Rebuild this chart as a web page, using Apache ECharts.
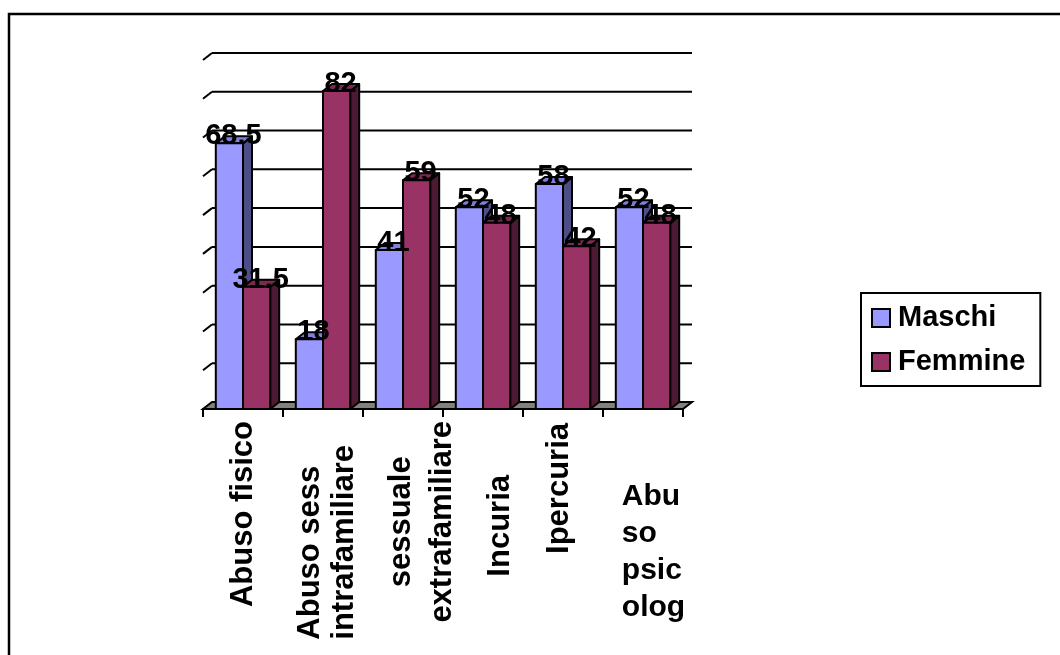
<!DOCTYPE html>
<html><head><meta charset="utf-8">
<script src="https://cdn.jsdelivr.net/npm/echarts@6/dist/echarts.min.js"></script>
<style>html,body{margin:0;padding:0;background:#fff}#c{width:1060px;height:655px}</style>
</head><body><div id="c"></div>
<script>
const categories = ['Abuso fisico', 'Abuso sess\nintrafamiliare', 'sessuale\nextrafamiliare', 'Incuria', 'Ipercuria', 'Abu\nso\npsic\nolog'];
const seriesNames = ['Maschi', 'Femmine'];
const maschi = [68.5, 18, 41, 52, 58, 52];
const femmine = [31.5, 82, 59, 48, 42, 48];
const gridValues = [0, 10, 20, 30, 40, 50, 60, 70, 80, 90];

const FONT = "'Liberation Sans', Arial, sans-serif";
const DX = 9, DY = -7;
const palettes = [
  {front: '#9999FF', top: '#7f7fdc', side: '#4d4d88'},
  {front: '#993366', top: '#7d2953', side: '#4d1a33'}
];

function barRenderer(sIdx) {
  return function (params, api) {
    const ci = api.value(0), v = api.value(1);
    const base = api.coord([ci, 0]);
    const top = api.coord([ci, v]);
    const band = api.size([1, 0])[0];
    const bw = band * 0.34;
    const x0 = base[0] - bw + sIdx * bw;
    const x1 = x0 + bw;
    const ty = top[1], by = base[1];
    const pal = palettes[sIdx];
    const st = {stroke: '#000', lineWidth: 2, lineJoin: 'round'};
    return {type: 'group', children: [
      {type: 'polygon', z2: 1, shape: {points: [[x1, by], [x1 + DX, by + DY], [x1 + DX, ty + DY], [x1, ty]]}, style: Object.assign({}, st, {fill: pal.side})},
      {type: 'polygon', z2: 1, shape: {points: [[x0, ty], [x1, ty], [x1 + DX, ty + DY], [x0 + DX, ty + DY]]}, style: Object.assign({}, st, {fill: pal.top})},
      {type: 'rect', z2: 1, shape: {x: x0, y: ty, width: bw, height: by - ty}, style: Object.assign({}, st, {fill: pal.front})},
      {type: 'text', z2: 100, x: x0 + bw / 2 + 4, y: ty - 7,
        style: {text: String(v), fill: '#000', font: 'bold 29px ' + FONT, align: 'center', verticalAlign: 'middle', textAlign: 'center', textVerticalAlign: 'middle'}}
    ]};
  };
}

function frameRenderer(params, api) {
  const v = api.value(1);
  const cs = params.coordSys;
  const y = api.coord([0, v])[1];
  const L = cs.x, R = cs.x + cs.width;
  const ls = {stroke: '#000', lineWidth: 2};
  const children = [];
  if (v === 0) {
    children.push({type: 'polygon', shape: {points: [[L, y], [R, y], [R + DX, y + DY], [L + DX, y + DY]]}, style: {fill: '#808080', stroke: '#000', lineWidth: 2}});
  } else {
    children.push({type: 'line', shape: {x1: L, y1: y, x2: L + DX, y2: y + DY}, style: ls});
    children.push({type: 'line', shape: {x1: L + DX, y1: y + DY, x2: R + DX, y2: y + DY}, style: ls});
  }
  return {type: 'group', children: children};
}

const base = {fontFamily: FONT, fontWeight: 'bold', fontSize: 31, lineHeight: 37, color: '#000'};
const rich = {
  c0l0: Object.assign({}, base),
  c1l0: Object.assign({}, base, {lineHeight: 34, align: 'left', padding: [8, 0, 0, 0]}),
  c1l1: Object.assign({}, base, {lineHeight: 34, align: 'left', padding: [8, 24, 0, 0]}),
  c2l0: Object.assign({}, base, {lineHeight: 41, align: 'center', padding: [37, 0, 0, 0]}),
  c2l1: Object.assign({}, base, {lineHeight: 41, align: 'center', padding: [37, 0, 0, 0]}),
  c3l0: Object.assign({}, base, {padding: [34, 54, 0, 0]}),
  c4l0: Object.assign({}, base, {padding: [0, 2, 8, 0]})
};
const richH = {h: {fontFamily: FONT, fontWeight: 'bold', fontSize: 30, lineHeight: 37, color: '#000', align: 'left'}};
const last = categories.length - 1;

const chart = echarts.init(document.getElementById('c'), null, {renderer: 'canvas'});
chart.setOption({
  animation: false,
  backgroundColor: '#fff',
  graphic: [{type: 'rect', shape: {x: 9, y: 14, width: 1200, height: 800}, style: {fill: 'none', stroke: '#000', lineWidth: 2.5}, z: -1}],
  grid: {left: 203, right: 377, top: 60, bottom: 246, containLabel: false, outerBoundsMode: 'none'},
  legend: {
    data: seriesNames, orient: 'vertical', left: 861, top: 293, padding: [10, 15, 9, 10],
    itemGap: 14, itemWidth: 18, itemHeight: 18, icon: 'rect',
    itemStyle: {borderColor: '#000', borderWidth: 2},
    borderColor: '#000', borderWidth: 2,
    textStyle: {fontFamily: FONT, fontWeight: 'bold', fontSize: 29, color: '#000', lineHeight: 30, padding: [0, 0, 0, 3]}
  },
  xAxis: [
    {
      type: 'category', data: categories, gridIndex: 0, position: 'bottom',
      axisLine: {show: true, lineStyle: {color: '#000', width: 2}},
      axisTick: {show: true, length: 8, lineStyle: {color: '#000', width: 2}},
      splitLine: {show: false},
      axisLabel: {
        interval: 0, rotate: 90, margin: 12,
        fontFamily: FONT, fontWeight: 'bold', fontSize: 31, color: '#000',
        formatter: function (val, idx) {
          if (idx === last) return '';
          return val.split('\n').map(function (l, j) { return '{c' + idx + 'l' + j + '|' + l + '}'; }).join('\n');
        },
        rich: rich
      }
    },
    {
      type: 'category', data: categories, gridIndex: 0, position: 'bottom',
      axisLine: {show: false}, axisTick: {show: false}, splitLine: {show: false},
      axisLabel: {
        interval: 0, rotate: 0, margin: 69, padding: [0, 0, 0, 21],
        fontFamily: FONT, fontWeight: 'bold', fontSize: 30, color: '#000',
        formatter: function (val, idx) {
          if (idx !== last) return '';
          return val.split('\n').map(function (l) { return '{h|' + l + '}'; }).join('\n');
        },
        rich: richH
      }
    }
  ],
  yAxis: {type: 'value', min: 0, max: 90, interval: 10, show: false},
  series: [
    {type: 'custom', name: 'frame', z: 1, silent: true, renderItem: frameRenderer,
      data: gridValues.map(function (v) { return [0, v]; })},
    {type: 'custom', name: seriesNames[0], z: 2, itemStyle: {color: palettes[0].front}, renderItem: barRenderer(0),
      data: maschi.map(function (v, i) { return [i, v]; })},
    {type: 'custom', name: seriesNames[1], z: 2, itemStyle: {color: palettes[1].front}, renderItem: barRenderer(1),
      data: femmine.map(function (v, i) { return [i, v]; })}
  ]
});
</script>
</body></html>
